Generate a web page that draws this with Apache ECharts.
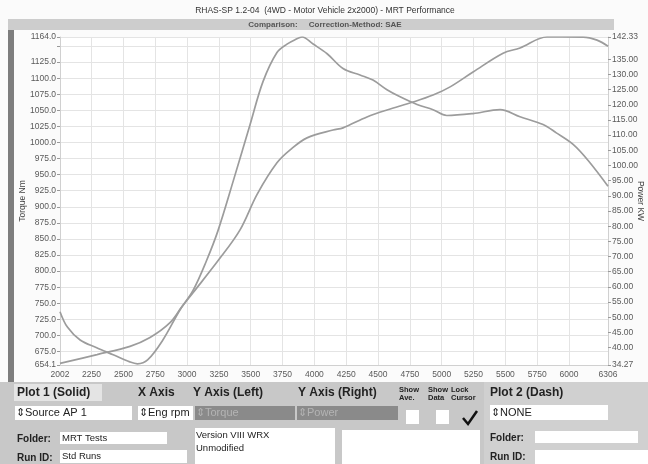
<!DOCTYPE html>
<html><head><meta charset="utf-8">
<script src="https://cdn.jsdelivr.net/npm/echarts@6/dist/echarts.min.js"></script>
<style>html,body{margin:0;padding:0;background:#fbfbfb}#c{width:648px;height:464px}</style>
</head><body><div id="c"></div>
<script>
const torqueRpm = [2002,2060,2160,2290,2420,2550,2610,2690,2810,2945,3047,3150,3243,3370,3495,3597,3706,3785,3850,3903,3990,4100,4225,4358,4460,4570,4673,4806,4932,5040,5246,5458,5615,5796,5900,6032,6150,6306];
const torqueNm  = [737,713,693,681,670,659,656,662,693,740,770,815,863,945,1028,1095,1140,1153,1160,1164,1153,1138,1115,1105,1097,1082,1071,1059,1051,1042,1045,1051,1040,1028,1015,997,972,932];
const powerRpm = [2002,2293,2552,2709,2866,2960,3047,3250,3416,3550,3706,3820,3942,4146,4225,4413,4570,4775,4932,5066,5246,5482,5615,5827,6110,6220,6306];
const powerKw  = [34.8,37.7,40.4,43.3,48.2,53.5,58.1,69,78.8,90.5,100.9,105.5,109.1,111.7,112.4,116.0,118.3,120.9,123.2,125.9,130.8,137.0,138.7,142.33,142.3,141.3,139.3];
const xTicks = [2002,2250,2500,2750,3000,3250,3500,3750,4000,4250,4500,4750,5000,5250,5500,5750,6000,6306];
const leftLabels = [654.1,675,700,725,750,775,800,825,850,875,900,925,950,975,1000,1025,1050,1075,1100,1125,1164];
const leftTicks = [654.1,675,700,725,750,775,800,825,850,875,900,925,950,975,1000,1025,1050,1075,1100,1125,1150,1164];
const rightLabels = [34.27,40,45,50,55,60,65,70,75,80,85,90,95,100,105,110,115,120,125,130,135,142.33];

const FONT = 'Liberation Sans, Arial, sans-serif';
const chart = echarts.init(document.getElementById('c'), null, {renderer:'canvas'});
const tq = torqueRpm.map((r,i)=>[r,torqueNm[i]]);
const pw = powerRpm.map((r,i)=>[r,powerKw[i]]);
const lbl = {fontFamily:FONT,fontSize:8.5,color:'#5a5a5a'};

function box(x,y,w,h,fill){return {type:'rect',shape:{x:x,y:y,width:w,height:h},style:{fill:fill||'#fff'}};}
function txt(x,y,t,size,bold,fill){return {type:'text',x:x,y:y,style:{text:t,font:(bold?'bold ':'')+size+'px '+FONT,fill:fill||'#222',verticalAlign:'middle'}};}

const graphic = [
  {type:'text',x:325,y:11,style:{text:'RHAS-SP 1.2-04  (4WD - Motor Vehicle 2x2000) - MRT Performance',font:'8.5px '+FONT,fill:'#333',align:'center',verticalAlign:'middle'}},
  box(8,19,606,11,'#cdcdcd'),
  {type:'text',x:325,y:25,style:{text:'Comparison:     Correction-Method: SAE',font:'bold 8px '+FONT,fill:'#555',align:'center',verticalAlign:'middle'}},
  box(8,30,6,352,'#7e7e7e'),
  box(0,382,648,82,'#c8c8c8'),
  box(484,382,164,82,'#d0d0d0'),
  box(14,384,88,17,'#e4e4e4'),
  txt(17,393,'Plot 1 (Solid)',12,true),
  txt(138,393,'X Axis',12,true),
  txt(193,393,'Y Axis (Left)',12,true),
  txt(298,393,'Y Axis (Right)',12,true),
  {type:'text',x:399,y:386,style:{text:'Show\nAve.',font:'bold 7.5px '+FONT,fill:'#222',lineHeight:8}},
  {type:'text',x:428,y:386,style:{text:'Show\nData',font:'bold 7.5px '+FONT,fill:'#222',lineHeight:8}},
  {type:'text',x:451,y:386,style:{text:'Lock\nCursor',font:'bold 7.5px '+FONT,fill:'#222',lineHeight:8}},
  txt(490,393,'Plot 2 (Dash)',12,true),
  box(15,406,117,14),
  txt(16,413,'⇕Source AP 1',11,false),
  box(138,406,55,14),
  {type:'group',children:[txt(139,413,'⇕Eng rpm',11,false)],clipPath:{type:'rect',shape:{x:138,y:406,width:53,height:14}}},
  box(195,406,100,14,'#8a8a8a'),
  txt(196,413,'⇕Torque',11,false,'#b4b4b4'),
  box(297,406,101,14,'#8a8a8a'),
  txt(298,413,'⇕Power',11,false,'#b4b4b4'),
  box(406,410,13,14),
  box(436,410,13,14),
  {type:'polyline',shape:{points:[[463,418],[468,424],[477,411]]},style:{stroke:'#111',lineWidth:2.5,fill:null}},
  box(490,405,118,15),
  txt(491,413,'⇕NONE',11,false),
  txt(17,439,'Folder:',10,true),
  box(60,432,107,12),
  txt(62,438,'MRT Tests',9.5,false),
  txt(17,458,'Run ID:',10,true),
  box(60,450,127,13),
  txt(62,456.5,'Std Runs',9.5,false),
  box(195,428,140,36),
  txt(196,435,'Version VIII WRX',9.5,false),
  txt(196,448,'Unmodified',9.5,false),
  box(342,430,138,34),
  txt(490,438,'Folder:',10,true),
  box(535,431,103,12),
  txt(490,457,'Run ID:',10,true),
  box(535,450,113,14)
];

chart.setOption({
  backgroundColor:'#fbfbfb',
  animation:false,
  grid:{left:60,right:40,top:37,bottom:99,show:true,backgroundColor:'#ffffff',borderWidth:0,outerBoundsMode:'none',containLabel:false},
  xAxis:{type:'value',min:2002,max:6306,
    axisLine:{show:true,lineStyle:{color:'#d0d0d0'}},
    axisTick:{show:false,customValues:xTicks},
    axisLabel:Object.assign({customValues:xTicks,margin:5,formatter:v=>String(v)},lbl),
    splitLine:{show:true,lineStyle:{color:'#e4e4e4'}}},
  yAxis:[
    {type:'value',min:654.1,max:1164.0,position:'left',
     name:'Torque Nm',nameLocation:'middle',nameGap:33,nameRotate:90,nameMoveOverlap:false,
     nameTextStyle:{fontFamily:FONT,fontSize:8.5,color:'#444'},
     axisLine:{show:true,lineStyle:{color:'#d0d0d0'}},
     axisTick:{show:true,length:3,customValues:leftTicks,lineStyle:{color:'#999'}},
     axisLabel:Object.assign({customValues:leftLabels,margin:4,formatter:v=>v.toFixed(1)},lbl),
     splitLine:{show:true,lineStyle:{color:'#e4e4e4'}}},
    {type:'value',min:34.27,max:142.33,position:'right',
     name:'Power KW',nameLocation:'middle',nameGap:28,nameRotate:-90,nameMoveOverlap:false,
     nameTextStyle:{fontFamily:FONT,fontSize:8.5,color:'#444'},
     axisLine:{show:true,lineStyle:{color:'#d0d0d0'}},
     axisTick:{show:true,length:3,customValues:rightLabels,lineStyle:{color:'#999'}},
     axisLabel:Object.assign({customValues:rightLabels,margin:4,formatter:v=>v.toFixed(2)},lbl),
     splitLine:{show:false}}
  ],
  series:[
    {type:'line',name:'Torque',yAxisIndex:0,data:tq,smooth:0.35,symbol:'none',lineStyle:{color:'#9c9c9c',width:1.7}},
    {type:'line',name:'Power',yAxisIndex:1,data:pw,smooth:0.35,symbol:'none',lineStyle:{color:'#9c9c9c',width:1.7}}
  ],
  graphic:graphic
});
</script></body></html>
